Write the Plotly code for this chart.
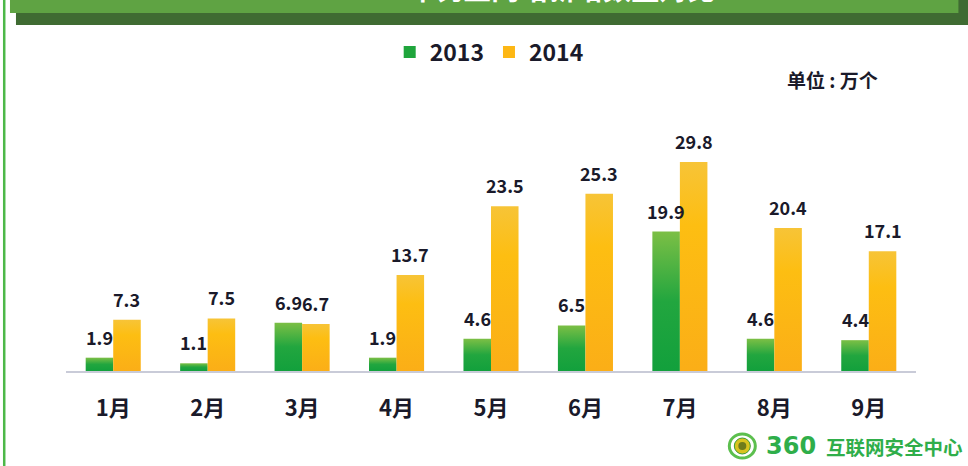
import plotly.graph_objects as go

months = ["1月", "2月", "3月", "4月", "5月", "6月", "7月", "8月", "9月"]
v2013 = [1.9, 1.1, 6.9, 1.9, 4.6, 6.5, 19.9, 4.6, 4.4]
v2014 = [7.3, 7.5, 6.7, 13.7, 23.5, 25.3, 29.8, 20.4, 17.1]
series_names = ["2013", "2014"]
unit_label = "单位 : 万个"
title_text = "2013-2014年钓鱼网站新增数量对比"
brand_num = "360"
brand_cn = "互联网安全中心"

W, H = 968, 466
GREEN, ORANGE = "#1FA53C", "#FDB714"
INK = "#1A1A2A"
FONT = "Noto Sans CJK SC"
L, R, T, B = 66, 915.6, 100, 371
BAR_HALF = 13.75


def xp(px):
    return (px - L) / (R - L)


def yp(px):
    return (B - px) / (B - T)


fig = go.Figure()
for name, vals, col in ((series_names[0], v2013, GREEN), (series_names[1], v2014, ORANGE)):
    fig.add_bar(x=months, y=vals, name=name, marker=dict(color=col, line_width=0))

shapes = [
    dict(type="rect", xref="paper", yref="paper", x0=xp(3), x1=xp(5.5), y0=yp(H), y1=yp(0),
         fillcolor="#4DB848", line_width=0, layer="below"),
    dict(type="rect", xref="paper", yref="paper", x0=xp(16), x1=xp(W), y0=yp(25), y1=yp(0),
         fillcolor="#3F6B32", line_width=0, layer="below"),
    dict(type="rect", xref="paper", yref="paper", x0=xp(10), x1=xp(958), y0=yp(13), y1=yp(0),
         fillcolor="#5FA343", line_width=0, layer="below"),
    dict(type="circle", xref="paper", yref="paper", x0=xp(729), x1=xp(755), y0=yp(458), y1=yp(434),
         fillcolor="white", line=dict(color="#5CBF4E", width=3), layer="above"),
    dict(type="circle", xref="paper", yref="paper", x0=xp(734), x1=xp(750), y0=yp(454), y1=yp(438),
         fillcolor="#D8C31E", line=dict(color="#3D9A35", width=1), layer="above"),
    dict(type="circle", xref="paper", yref="paper", x0=xp(738), x1=xp(746), y0=yp(450), y1=yp(442),
         fillcolor="#6E7B1C", line_width=0, layer="above"),
]

annotations = [
    dict(text=unit_label, x=xp(832), y=yp(80), xref="paper", yref="paper", showarrow=False,
         xanchor="center", yanchor="middle",
         font=dict(family=FONT, size=19, color=INK, weight=700)),
    dict(text=brand_num, x=xp(764), y=yp(446), xref="paper", yref="paper", showarrow=False,
         xanchor="left", yanchor="middle",
         font=dict(family="DejaVu Sans", size=24, color="#2FAE4A", weight=700)),
    dict(text=brand_cn, x=xp(824), y=yp(446), xref="paper", yref="paper", showarrow=False,
         xanchor="left", yanchor="middle",
         font=dict(family=FONT, size=19.5, color="#2FAE4A", weight=700)),
]
for vals, side in ((v2013, -1), (v2014, 1)):
    for m, v in zip(months, vals):
        annotations.append(dict(
            text=f"{v:.1f}", x=m, y=v, xref="x", yref="y", showarrow=False,
            xanchor="center", yanchor="middle", xshift=side * BAR_HALF, yshift=21,
            font=dict(family=FONT, size=18, color=INK, weight=700)))

fig.update_layout(
    width=W, height=H, margin=dict(l=L, r=W - R, t=T, b=H - B),
    paper_bgcolor="white", plot_bgcolor="white",
    barmode="group", bargap=0.417, bargroupgap=0,
    title=dict(text=title_text, x=490 / W, xanchor="center", y=0.99, yanchor="middle",
               yref="container", font=dict(family=FONT, size=28, color="white", weight=700)),
    showlegend=True,
    legend=dict(orientation="h", x=xp(489), xanchor="center", y=yp(52), yanchor="middle",
                font=dict(family=FONT, size=23, color=INK, weight=700),
                itemwidth=30, bgcolor="rgba(0,0,0,0)", traceorder="normal"),
    xaxis=dict(categoryorder="array", categoryarray=months, showgrid=False, ticks="",
               showline=True, linecolor="#C9CBD8", linewidth=2,
               tickfont=dict(family=FONT, size=22, color=INK, weight=700), ticklabelstandoff=17),
    yaxis=dict(range=[0, 38.66], visible=False),
    shapes=shapes, annotations=annotations,
)

page_js = """
document.body.style.margin = '0';
document.body.style.overflow = 'hidden';
var gd = document.getElementsByClassName('plotly-graph-div')[0];
var svg = gd.querySelector('svg.main-svg');
var ns = 'http://www.w3.org/2000/svg';
var defs = document.createElementNS(ns, 'defs');
function grad(id, stops) {
  var g = document.createElementNS(ns, 'linearGradient');
  g.setAttribute('id', id);
  g.setAttribute('x1', '0'); g.setAttribute('x2', '0');
  g.setAttribute('y1', '0'); g.setAttribute('y2', '1');
  stops.forEach(function (s) {
    var st = document.createElementNS(ns, 'stop');
    st.setAttribute('offset', s[0]); st.setAttribute('stop-color', s[1]);
    g.appendChild(st);
  });
  defs.appendChild(g);
}
grad('gradGreen', [['0', '#7CBF45'], ['0.5', '#22A63F'], ['1', '#12A03C']]);
grad('gradOrange', [['0', '#F7C437'], ['0.3', '#FDBE12'], ['1', '#FBAE17']]);
svg.insertBefore(defs, svg.firstChild);
var traces = gd.querySelectorAll('.barlayer .trace');
traces.forEach(function (t, i) {
  t.querySelectorAll('.point path').forEach(function (p) {
    p.style.fill = 'url(#' + (i === 0 ? 'gradGreen' : 'gradOrange') + ')';
  });
});
var ttl = gd.querySelector('.gtitle');
if (ttl) { ttl.setAttribute('transform', 'translate(0,-14)'); }
"""
fig.write_html("out.html", post_script=page_js, config={"displayModeBar": False})
